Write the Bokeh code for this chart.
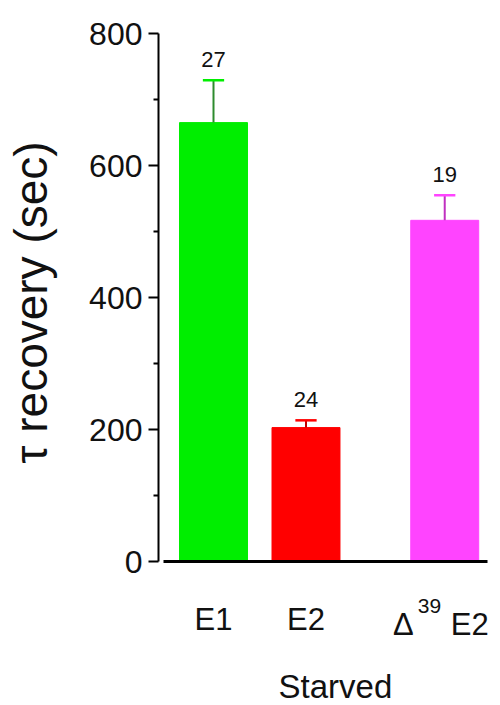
import math
from bokeh.plotting import figure
from bokeh.models import Range1d, FixedTicker, LinearAxis
from bokeh.core.properties import value
from bokeh.embed import file_html
from bokeh.resources import INLINE

# Recovery time constants under starvation (mean + SEM, seconds)
label_prefix = ["", "", "Δ"]
label_sup = ["", "", "39"]
label_base = ["E1", "E2", "E2"]
x_pos = [1.0, 2.0, 3.5]
tau_mean = [665, 203, 517]
tau_sem = [64, 11, 38]
n_cells = ["27", "24", "19"]
bar_colors = ["#00ee00", "#ff0000", "#ff44ff"]
stem_colors = ["#2e8b2e", "#c00000", "#c030c0"]
y_ticks = [0, 200, 400, 600, 800]
y_minor = [100, 300, 500, 700]
y_title = "τ recovery (sec)"
x_title = "Starved"

FONT = "Liberation Sans"
INK = "#111111"

# Axis placement in data units; the frame fills the whole canvas and both
# axes are pinned inside it, so every text can be drawn without clipping.
Y_AXIS_AT = 0.405
X_BOUNDS = (0.46, 3.96)
Y_BOUNDS = (0, 800)

p = figure(width=500, height=705, output_backend="svg", toolbar_location=None,
           x_range=Range1d(-1.303, 4.103), y_range=Range1d(-218, 850),
           x_axis_location=None, y_axis_location=None,
           min_border_left=0, min_border_right=0, min_border_top=0,
           min_border_bottom=0)
p.outline_line_color = None
p.grid.visible = False

# bars
p.vbar(x=x_pos, top=tau_mean, bottom=0, width=0.735,
       fill_color=bar_colors, line_color=bar_colors, line_width=1)

# error bars (upper side only)
upper = [m + s for m, s in zip(tau_mean, tau_sem)]
p.segment(x0=x_pos, y0=tau_mean, x1=x_pos, y1=upper,
          line_color=stem_colors, line_width=2)
p.segment(x0=[x - 0.115 for x in x_pos], y0=upper,
          x1=[x + 0.115 for x in x_pos], y1=upper,
          line_color=bar_colors, line_width=2.5)

# number of cells above each bar
p.text(x=x_pos, y=upper, text=n_cells, text_align="center",
       text_baseline="bottom", y_offset=-13,
       text_font=value(FONT), text_font_size="22px", text_color=INK)

# y axis
ya = LinearAxis(fixed_location=Y_AXIS_AT)
ya.ticker = FixedTicker(ticks=y_ticks, minor_ticks=y_minor)
ya.bounds = Y_BOUNDS
ya.axis_line_width = 2
ya.major_tick_line_width = 2
ya.minor_tick_line_width = 2
ya.major_tick_out = 10
ya.major_tick_in = 0
ya.minor_tick_out = 5
ya.minor_tick_in = 0
ya.major_label_text_font = FONT
ya.major_label_text_font_size = "32px"
ya.major_label_text_color = INK
ya.major_label_standoff = 6
p.add_layout(ya, "left")

# x axis: plain category names as tick labels
xa = LinearAxis(fixed_location=0)
xa.ticker = FixedTicker(ticks=x_pos)
xa.major_label_overrides = {
    x: (b if not pre and not sup else "")
    for x, pre, sup, b in zip(x_pos, label_prefix, label_sup, label_base)
}
xa.bounds = X_BOUNDS
xa.axis_line_width = 3
xa.major_tick_out = 0
xa.major_tick_in = 0
xa.minor_tick_out = 0
xa.minor_tick_in = 0
xa.major_label_text_font = FONT
xa.major_label_text_font_size = "31px"
xa.major_label_text_color = INK
xa.major_label_standoff = 40
p.add_layout(xa, "below")

# category names with a superscripted prefix (e.g. Δ^39 E2)
idx = [i for i, pre in enumerate(label_prefix) if pre]
sx = [x_pos[i] for i in idx]
sy = [0] * len(idx)
p.text(x=sx, y=sy, text=[label_prefix[i] for i in idx], text_align="right",
       text_baseline="alphabetic", x_offset=-31, y_offset=63,
       text_font=value(FONT), text_font_size="31px", text_color=INK)
p.text(x=sx, y=sy, text=[label_sup[i] for i in idx], text_align="left",
       text_baseline="alphabetic", x_offset=-27, y_offset=44,
       text_font=value(FONT), text_font_size="21px", text_color=INK)
p.text(x=sx, y=sy, text=[label_base[i] for i in idx], text_align="left",
       text_baseline="alphabetic", x_offset=6, y_offset=63,
       text_font=value(FONT), text_font_size="31px", text_color=INK)

# axis titles
p.text(x=[Y_AXIS_AT], y=[sum(Y_BOUNDS) / 2], text=[y_title], angle=math.pi / 2,
       text_align="center", text_baseline="alphabetic",
       x_offset=-127, y_offset=5,
       text_font=value(FONT), text_font_size="46px", text_color=INK)
p.text(x=[sum(X_BOUNDS) / 2], y=[0], text=[x_title], text_align="center",
       text_baseline="alphabetic", x_offset=10, y_offset=125,
       text_font=value(FONT), text_font_size="33px", text_color=INK)

open("out.html", "w").write(file_html(p, INLINE))
